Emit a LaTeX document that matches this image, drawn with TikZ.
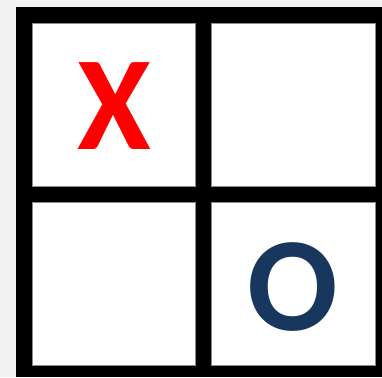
\documentclass[tikz,border=0pt]{standalone}
\usepackage{fontspec}
\setmainfont{Carlito}
\definecolor{bgray}{HTML}{F2F2F2}
\definecolor{xred}{HTML}{FF0000}
\definecolor{oblue}{HTML}{17375E}
\begin{document}
\begin{tikzpicture}[x=1pt,y=-1pt,
  cell/.style={fill=white,draw=black!45,line width=0.6pt},
  letter/.style={inner sep=0pt,anchor=base,font=\fontsize{134}{134}\selectfont\bfseries}]
\useasboundingbox (0,0) rectangle (382,377);
\fill[bgray] (0,0) rectangle (382,377);
\fill[black] (16,7) rectangle (382,377);
\draw[cell] (32,23) rectangle (195,186);
\draw[cell] (211,23) rectangle (375,186);
\draw[cell] (32,202) rectangle (195,365);
\draw[cell] (211,202) rectangle (375,365);
\node[letter,text=xred] (x) at (114.5,149) {X};
\node[letter,text=oblue] (o) at (293,330) {O};
\end{tikzpicture}
\end{document}
